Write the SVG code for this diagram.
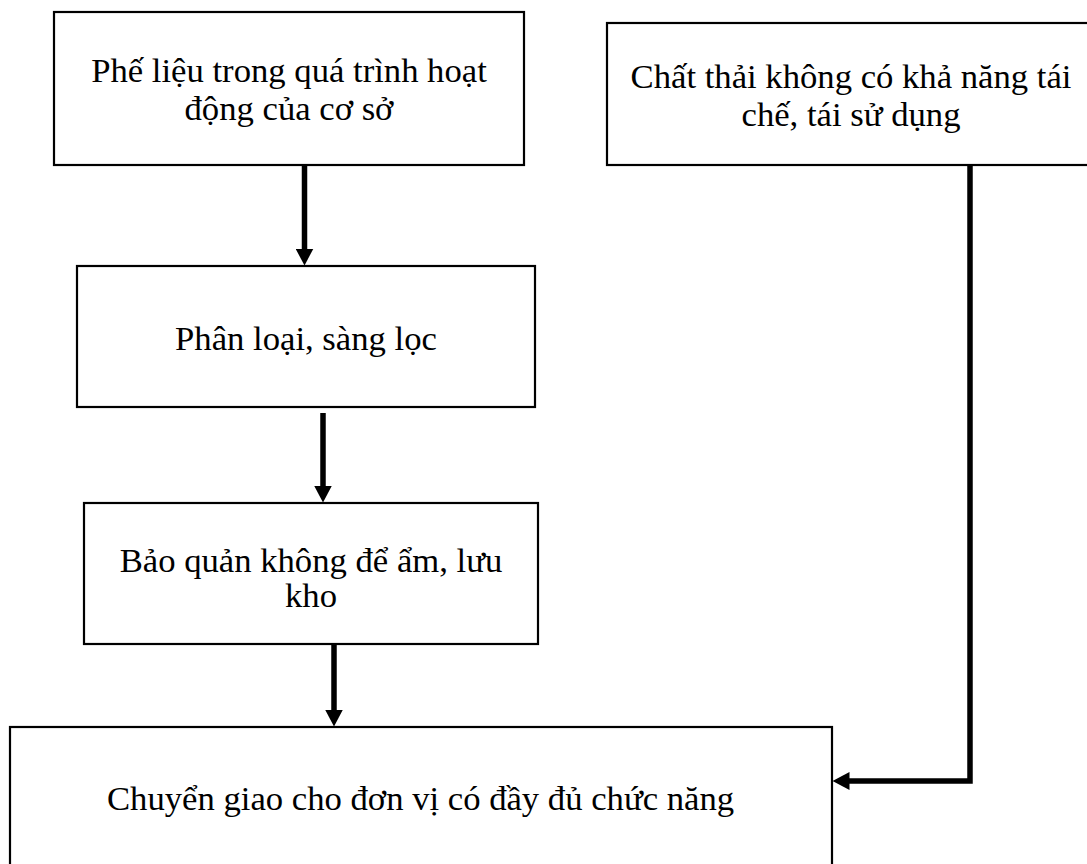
<svg xmlns="http://www.w3.org/2000/svg" width="1087" height="864" viewBox="0 0 1087 864">
  <style>
    .box { fill: #ffffff; stroke: #000000; stroke-width: 2.2; }
    .label { font-family: "Liberation Serif", "Times New Roman", serif; font-size: 34.67px; fill: #000000; }
    .mid { text-anchor: middle; }
    .flow { fill: none; stroke: #000000; stroke-width: 5.5; stroke-linejoin: miter; }
  </style>
  <defs>
    <marker id="head" viewBox="0 0 17 18" refX="0.5" refY="9" markerWidth="17" markerHeight="18" markerUnits="userSpaceOnUse" orient="auto">
      <path d="M0,0 L17,9 L0,18 Z" fill="#000000"/>
    </marker>
  </defs>
  <rect width="1087" height="864" fill="#ffffff"/>

  <!-- connectors -->
  <g id="connectors">
    <line class="flow" x1="304.5" y1="165" x2="304.5" y2="249" marker-end="url(#head)"/>
    <line class="flow" x1="323" y1="413" x2="323" y2="486" marker-end="url(#head)"/>
    <line class="flow" x1="334" y1="644" x2="334" y2="710" marker-end="url(#head)"/>
    <polyline class="flow" points="970,165 970,781 849,781" marker-end="url(#head)"/>
  </g>

  <g id="scrap">
    <rect class="box" x="54" y="12" width="470" height="153"/>
    <text class="label mid" x="289" y="82">Phế liệu trong quá trình hoạt</text>
    <text class="label mid" x="289" y="120">động của cơ sở</text>
  </g>

  <g id="non-recyclable">
    <rect class="box" x="607" y="23" width="488" height="142"/>
    <text class="label mid" x="851" y="88">Chất thải không có khả năng tái</text>
    <text class="label mid" x="851" y="126">chế, tái sử dụng</text>
  </g>

  <g id="sorting">
    <rect class="box" x="77" y="266" width="458" height="141"/>
    <text class="label mid" x="306" y="350">Phân loại, sàng lọc</text>
  </g>

  <g id="storage">
    <rect class="box" x="84" y="503" width="454" height="141"/>
    <text class="label mid" x="311" y="572">Bảo quản không để ẩm, lưu</text>
    <text class="label mid" x="311" y="607">kho</text>
  </g>

  <g id="handover">
    <rect class="box" x="10" y="727" width="822" height="150"/>
    <text class="label" x="107" y="810">Chuyển giao cho đơn vị có đầy đủ chức năng</text>
  </g>
</svg>
